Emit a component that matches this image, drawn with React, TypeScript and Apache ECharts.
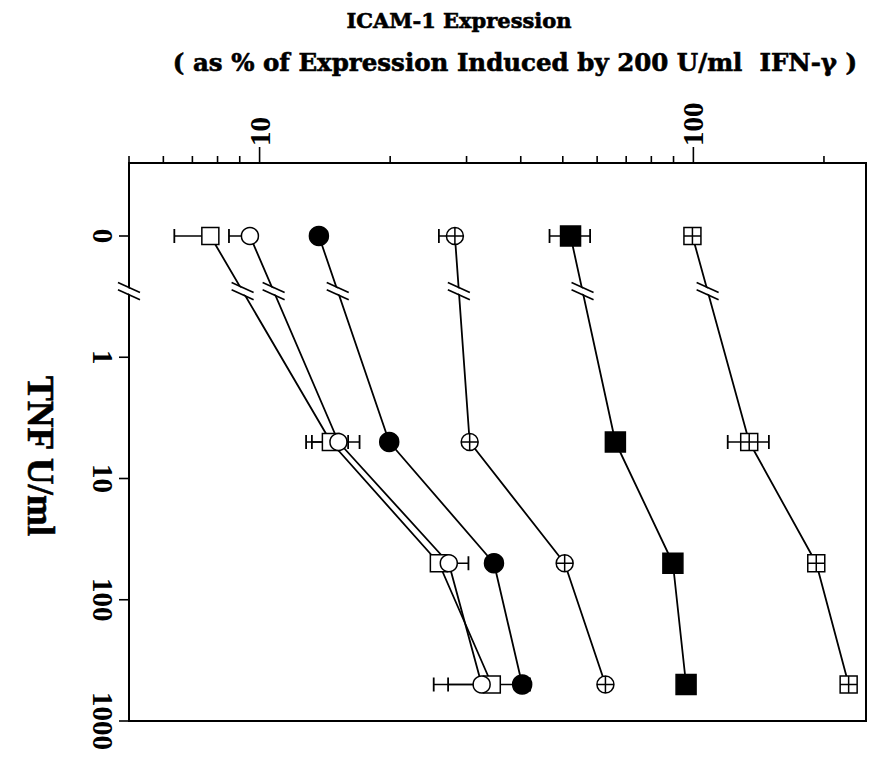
import React, { useEffect, useRef } from 'react';
import * as echarts from 'echarts';

// ---- data ----
const TNF_DOSES = [0, 5, 50, 500];
const ZERO_DOSE_POSITION = 0.1; // where the "0" dose is drawn on the log axis
const BREAK_POSITION = 0.285; // axis break between 0 and 1

const OPEN_SQUARE = [7.7, 14.6, 25.9, 34.3];
const OPEN_SQUARE_LOW = [6.36, 13.2, null, 25.2];
const OPEN_SQUARE_HIGH = [null, 16.0, null, 42];

const OPEN_CIRCLE = [9.5, 15.2, 27.3, 32.5];
const OPEN_CIRCLE_LOW = [8.5, 12.8, null, 27.2];
const OPEN_CIRCLE_HIGH = [null, 17.0, 30.3, null];

const FILLED_CIRCLE = [13.7, 19.9, 34.7, 40.3];

const CROSSED_CIRCLE = [28.2, 30.5, 50.5, 62.7];
const CROSSED_CIRCLE_LOW = [25.9, null, null, null];

const FILLED_SQUARE = [52.1, 66.1, 89.7, 96.2];
const FILLED_SQUARE_LOW = [46.6, null, null, null];
const FILLED_SQUARE_HIGH = [57.8, null, null, null];

const CROSSED_SQUARE = [99.5, 134.5, 192, 228];
const CROSSED_SQUARE_LOW = [null, 120, null, null];
const CROSSED_SQUARE_HIGH = [null, 149.3, null, null];

const X_MIN = 5;
const X_MAX = 250;
const Y_MIN = 0.025;
const Y_MAX = 1000;
const X_MAJOR_TICKS = [10, 100];
const X_MINOR_TICKS = [5, 6, 7, 8, 9, 20, 30, 40, 50, 60, 70, 80, 90, 200];
const Y_TICKS = [0.1, 1, 10, 100, 1000];
const Y_TICK_LABELS = ['0', '1', '10', '100', '1000'];

const TITLE_1 = 'ICAM-1 Expression';
const TITLE_2 = '( as % of Expression Induced by 200 U/ml  IFN-\u03b3 )';
const Y_TITLE = 'TNF U/ml';

const FONT = '"Liberation Serif", "DejaVu Serif", serif';
const TITLE_FONT = '"DejaVu Serif", "Liberation Serif", serif';

const CROSSED_CIRCLE_PATH =
  'path://M0,10A10,10,0,1,0,20,10A10,10,0,1,0,0,10ZM10,0L10,20M0,10L20,10';
const CROSSED_SQUARE_PATH = 'path://M0,0L20,0L20,20L0,20ZM10,0L10,20M0,10L20,10';

type Spec = {
  name: string;
  values: number[];
  low?: (number | null)[];
  high?: (number | null)[];
  symbol: string;
  size: number;
  fill: string;
};

const SPECS: Spec[] = [
  { name: 'open square', values: OPEN_SQUARE, low: OPEN_SQUARE_LOW, high: OPEN_SQUARE_HIGH, symbol: 'rect', size: 17, fill: '#fff' },
  { name: 'open circle', values: OPEN_CIRCLE, low: OPEN_CIRCLE_LOW, high: OPEN_CIRCLE_HIGH, symbol: 'circle', size: 17, fill: '#fff' },
  { name: 'filled circle', values: FILLED_CIRCLE, symbol: 'circle', size: 19, fill: '#000' },
  { name: 'crossed circle', values: CROSSED_CIRCLE, low: CROSSED_CIRCLE_LOW, symbol: CROSSED_CIRCLE_PATH, size: 17, fill: '#fff' },
  { name: 'filled square', values: FILLED_SQUARE, low: FILLED_SQUARE_LOW, high: FILLED_SQUARE_HIGH, symbol: 'rect', size: 20, fill: '#000' },
  { name: 'crossed square', values: CROSSED_SQUARE, low: CROSSED_SQUARE_LOW, high: CROSSED_SQUARE_HIGH, symbol: CROSSED_SQUARE_PATH, size: 17, fill: '#fff' },
];

const yPos = (dose: number) => (dose === 0 ? ZERO_DOSE_POSITION : dose);

function breakMark(cx: number, cy: number) {
  const dx = 11;
  const dy = 5;
  const s = 3.6;
  return {
    type: 'group',
    children: [
      {
        type: 'polygon',
        shape: {
          points: [
            [cx - dx, cy - dy - s + 1],
            [cx + dx, cy + dy - s + 1],
            [cx + dx, cy + dy + s - 1],
            [cx - dx, cy - dy + s - 1],
          ],
        },
        style: { fill: '#fff', stroke: null },
      },
      {
        type: 'line',
        shape: { x1: cx - dx, y1: cy - dy - s, x2: cx + dx, y2: cy + dy - s },
        style: { stroke: '#000', lineWidth: 1.6 },
      },
      {
        type: 'line',
        shape: { x1: cx - dx, y1: cy - dy + s, x2: cx + dx, y2: cy + dy + s },
        style: { stroke: '#000', lineWidth: 1.6 },
      },
    ],
  };
}

export default function App() {
  const ref = useRef<HTMLDivElement>(null);

  useEffect(() => {
    if (!ref.current) return;
    const chart = echarts.init(ref.current, undefined, { renderer: 'svg' });

    const lineSeries = SPECS.map((s) => ({
      type: 'line',
      name: s.name,
      data: s.values.map((v, i) => [v, yPos(TNF_DOSES[i])]),
      symbol: s.symbol,
      symbolSize: s.size,
      symbolKeepAspect: true,
      showSymbol: true,
      lineStyle: { color: '#000', width: 1.8 },
      itemStyle: { color: s.fill, borderColor: '#000', borderWidth: 1.5 },
      z: 3,
      silent: true,
    }));

    const errData: number[][] = [];
    SPECS.forEach((s) => {
      s.values.forEach((v, i) => {
        const lo = s.low && s.low[i] != null ? (s.low[i] as number) : v;
        const hi = s.high && s.high[i] != null ? (s.high[i] as number) : v;
        if (lo !== v || hi !== v) errData.push([v, yPos(TNF_DOSES[i]), lo, hi]);
      });
    });

    const errSeries = {
      type: 'custom',
      data: errData,
      encode: { x: [0, 2, 3], y: 1 },
      z: 2,
      silent: true,
      renderItem: (params: any, api: any) => {
        const v = api.value(0);
        const y = api.value(1);
        const lo = api.value(2);
        const hi = api.value(3);
        const pl = api.coord([lo, y]);
        const ph = api.coord([hi, y]);
        const cap = 7;
        const children: any[] = [
          { type: 'line', shape: { x1: pl[0], y1: pl[1], x2: ph[0], y2: ph[1] }, style: { stroke: '#000', lineWidth: 1.5 } },
        ];
        if (lo < v)
          children.push({ type: 'line', shape: { x1: pl[0], y1: pl[1] - cap, x2: pl[0], y2: pl[1] + cap }, style: { stroke: '#000', lineWidth: 1.8 } });
        if (hi > v)
          children.push({ type: 'line', shape: { x1: ph[0], y1: ph[1] - cap, x2: ph[0], y2: ph[1] + cap }, style: { stroke: '#000', lineWidth: 1.8 } });
        return { type: 'group', children };
      },
    };

    const breakData = SPECS.map((s) => [s.values[0], yPos(TNF_DOSES[0]), s.values[1], yPos(TNF_DOSES[1])]);
    const breakSeries = {
      type: 'custom',
      data: breakData,
      encode: { x: [0, 2], y: [1, 3] },
      z: 6,
      silent: true,
      clip: false,
      renderItem: (params: any, api: any) => {
        const p0 = api.coord([api.value(0), api.value(1)]);
        const p1 = api.coord([api.value(2), api.value(3)]);
        const yb = api.coord([api.value(0), BREAK_POSITION])[1];
        const t = (yb - p0[1]) / (p1[1] - p0[1]);
        const cx = p0[0] + t * (p1[0] - p0[0]);
        const children: any[] = [breakMark(cx, yb)];
        if (params.dataIndex === 0) {
          const a = api.coord([X_MIN, BREAK_POSITION]);
          children.push(breakMark(a[0], a[1]));
        }
        return { type: 'group', children };
      },
    };

    const xTickData = [
      ...X_MINOR_TICKS.map((v) => [v, Y_MIN, 0]),
      ...X_MAJOR_TICKS.map((v) => [v, Y_MIN, 1]),
    ];
    const xTickSeries = {
      type: 'custom',
      data: xTickData,
      encode: { x: 0, y: 1 },
      z: 6,
      clip: false,
      silent: true,
      renderItem: (params: any, api: any) => {
        const p = api.coord([api.value(0), api.value(1)]);
        const len = api.value(2) ? 16 : 7;
        return { type: 'line', shape: { x1: p[0], y1: p[1], x2: p[0], y2: p[1] - len }, style: { stroke: '#000', lineWidth: 1.6 } };
      },
    };

    const yTickSeries = {
      type: 'custom',
      data: Y_TICKS.map((v) => [X_MIN, v]),
      encode: { x: 0, y: 1 },
      z: 6,
      clip: false,
      silent: true,
      renderItem: (params: any, api: any) => {
        const p = api.coord([api.value(0), api.value(1)]);
        return { type: 'line', shape: { x1: p[0] - 10, y1: p[1], x2: p[0], y2: p[1] }, style: { stroke: '#000', lineWidth: 1.6 } };
      },
    };

    const near = (a: number, b: number) => Math.abs(Math.log10(a) - Math.log10(b)) < 1e-6;

    const titleStyle = (text: string, size: number) => ({
      text,
      fill: '#000',
      fontFamily: TITLE_FONT,
      fontWeight: 'bold',
      fontSize: size,
      align: 'center',
      verticalAlign: 'middle',
      textAlign: 'center',
      textVerticalAlign: 'middle',
      stroke: '#000',
      lineWidth: 0.6,
    });

    chart.setOption({
      animation: false,
      backgroundColor: '#fff',
      grid: {
        left: 129,
        right: 13,
        top: 163,
        bottom: 48,
        show: true,
        borderColor: '#000',
        borderWidth: 2,
        containLabel: false,
      },
      xAxis: {
        type: 'log',
        logBase: 10,
        position: 'top',
        min: X_MIN,
        max: X_MAX,
        axisLine: { show: false },
        axisTick: { show: false },
        splitLine: { show: false },
        minorTick: { show: false },
        axisLabel: {
          rotate: -90,
          margin: 17,
          color: '#000',
          fontFamily: FONT,
          fontWeight: 'bold',
          fontSize: 29,
          showMinLabel: true,
          showMaxLabel: true,
          hideOverlap: false,
          formatter: (v: number) => {
            const m = X_MAJOR_TICKS.find((t) => near(t, v));
            return m != null ? String(m) : '';
          },
        },
      },
      yAxis: {
        type: 'log',
        logBase: 10,
        inverse: true,
        min: Y_MIN,
        max: Y_MAX,
        axisLine: { show: false },
        axisTick: { show: false },
        splitLine: { show: false },
        axisLabel: {
          rotate: -90,
          margin: 12,
          color: '#000',
          fontFamily: FONT,
          fontWeight: 'bold',
          fontSize: 29,
          hideOverlap: false,
          formatter: (v: number) => {
            const idx = Y_TICKS.findIndex((t) => near(t, v));
            return idx >= 0 ? Y_TICK_LABELS[idx] : '';
          },
        },
      },
      graphic: [
        { type: 'text', x: 459, y: 20, style: titleStyle(TITLE_1, 21) },
        { type: 'text', x: 515, y: 62, style: titleStyle(TITLE_2, 24.5) },
        {
          type: 'text',
          x: 40,
          y: 456,
          rotation: -Math.PI / 2,
          style: { text: Y_TITLE, fill: '#000', fontFamily: FONT, fontWeight: 'bold', fontSize: 37, align: 'center', verticalAlign: 'middle', textAlign: 'center', textVerticalAlign: 'middle', stroke: '#000', lineWidth: 0.6 },
        },
      ],
      series: [errSeries, ...lineSeries, breakSeries, xTickSeries, yTickSeries],
    } as any);

    return () => chart.dispose();
  }, []);

  return (
    <div
      ref={ref}
      style={{ position: 'fixed', left: 0, top: 0, width: 879, height: 769, background: '#fff' }}
    />
  );
}
